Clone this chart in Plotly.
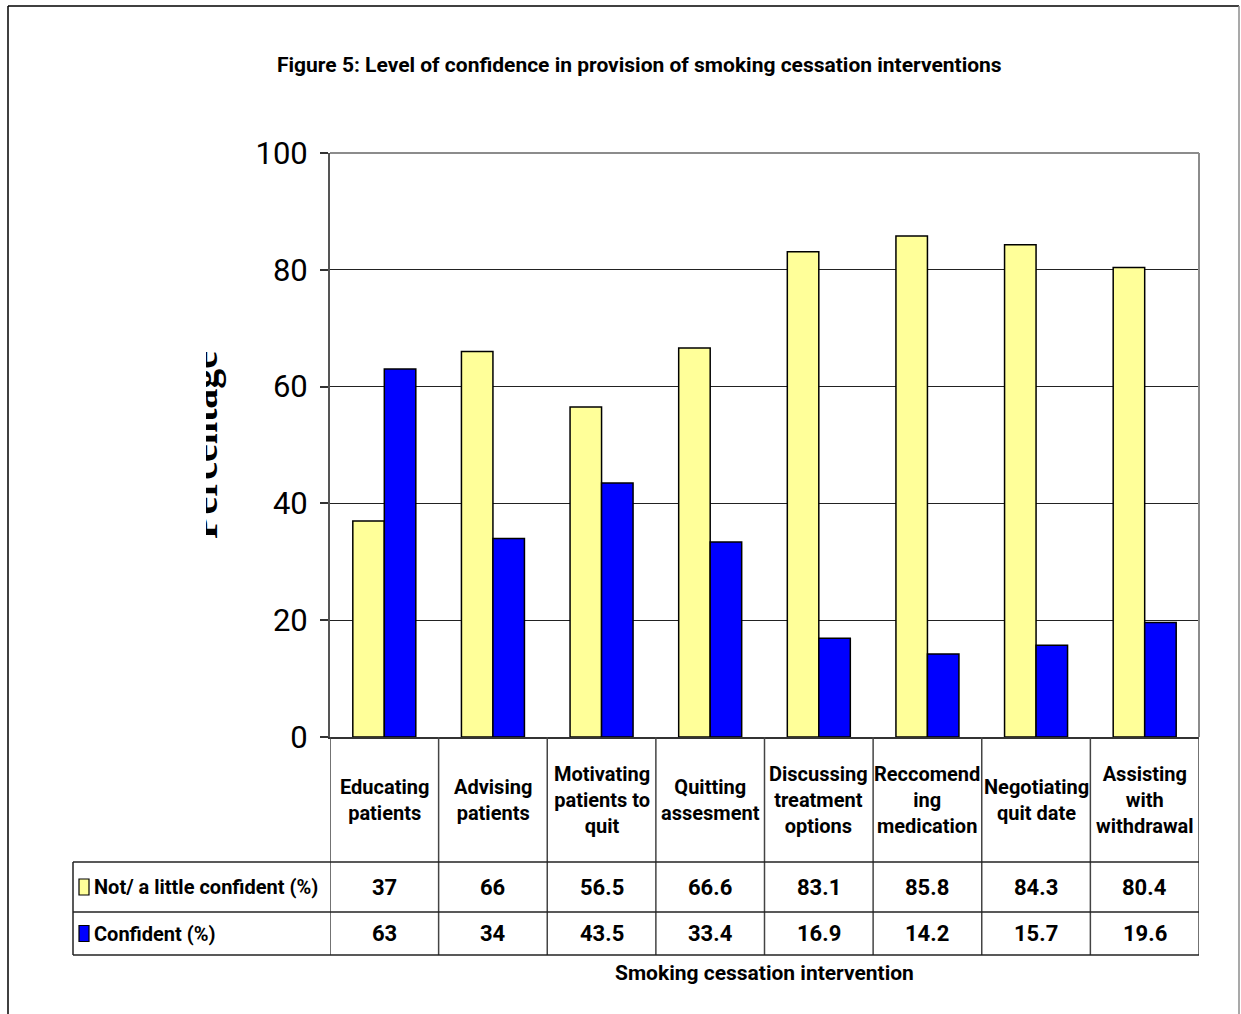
import plotly.graph_objects as go

# ---- data -------------------------------------------------------------
categories = [
    "Educating<br>patients",
    "Advising<br>patients",
    "Motivating<br>patients to<br>quit",
    "Quitting<br>assesment",
    "Discussing<br>treatment<br>options",
    "Reccomend<br>ing<br>medication",
    "Negotiating<br>quit date",
    "Assisting<br>with<br>withdrawal",
]
not_confident = [37, 66, 56.5, 66.6, 83.1, 85.8, 84.3, 80.4]
confident = [63, 34, 43.5, 33.4, 16.9, 14.2, 15.7, 19.6]
series_names = ["Not/ a little confident (%)", "Confident (%)"]
series_colors = ["#FFFF99", "#0000FF"]
y_ticks = [0, 20, 40, 60, 80, 100]

W, H = 1241, 1014
SANS = "Roboto, Liberation Sans, Arial, sans-serif"


def px(x):
    return x / W


def py(y):
    return 1 - y / H


# plot area in pixels
PL, PR, PT, PB = 330, 1199, 153, 737
# table row boundaries in pixels
ROW1, ROW2, ROW3 = 862, 912, 955
LEFT_TABLE = 73

xs = list(range(len(categories)))

fig = go.Figure()
for name, vals, col in zip(series_names, [not_confident, confident], series_colors):
    fig.add_trace(go.Bar(
        x=xs, y=vals, name=name,
        marker=dict(color=col, line=dict(color="black", width=1.5)),
        showlegend=False,
    ))

fig.update_layout(
    width=W, height=H,
    margin=dict(l=0, r=0, t=0, b=0),
    paper_bgcolor="white", plot_bgcolor="white",
    barmode="group", bargap=0.42, bargroupgap=0,
    font=dict(family=SANS, color="black"),
    xaxis=dict(
        domain=[px(PL), px(PR)], range=[-0.5, len(categories) - 0.5],
        showticklabels=False, showgrid=False, zeroline=False,
        showline=True, linecolor="#333333", linewidth=1.5,
        automargin=False, fixedrange=True,
    ),
    yaxis=dict(
        domain=[py(PB), py(PT)], range=[0, 100],
        tickvals=y_ticks, ticktext=[str(v) for v in y_ticks],
        tickfont=dict(family=SANS, size=31, color="black"),
        ticks="outside", ticklen=8, tickcolor="#333333", tickwidth=1.5,
        ticklabelstandoff=6,
        showgrid=True, gridcolor="#222222", gridwidth=1,
        zeroline=False,
        showline=True, linecolor="#555555", linewidth=2, mirror=False,
        automargin=False, fixedrange=True,
    ),
)

shapes = []
# plot area top and right border
shapes.append(dict(type="line", xref="paper", yref="paper",
                   x0=px(PL), x1=px(PR), y0=py(PT), y1=py(PT),
                   line=dict(color="#8c8c8c", width=2)))
shapes.append(dict(type="line", xref="paper", yref="paper",
                   x0=px(PR), x1=px(PR), y0=py(PT), y1=py(PB),
                   line=dict(color="#8c8c8c", width=2)))

# data table: column separators follow the category axis
for i in range(len(categories) + 1):
    shapes.append(dict(type="line", xref="x", yref="paper",
                       x0=i - 0.5, x1=i - 0.5, y0=py(PB), y1=py(ROW3),
                       line=dict(color="#444444", width=1.5)))
for yy in (ROW1, ROW2, ROW3):
    shapes.append(dict(type="line", xref="paper", yref="paper",
                       x0=px(LEFT_TABLE), x1=px(PR), y0=py(yy), y1=py(yy),
                       line=dict(color="#222222", width=1.5)))
shapes.append(dict(type="line", xref="paper", yref="paper",
                   x0=px(LEFT_TABLE), x1=px(LEFT_TABLE), y0=py(ROW1), y1=py(ROW3),
                   line=dict(color="#222222", width=1.5)))

# legend keys inside the table
row_centers = [(ROW1 + ROW2) / 2, (ROW2 + ROW3) / 2]
for col, yc in zip(series_colors, row_centers):
    shapes.append(dict(type="rect", xref="paper", yref="paper",
                       x0=px(79), x1=px(89), y0=py(yc + 8), y1=py(yc - 8),
                       fillcolor=col, line=dict(color="black", width=1.2)))

# page frame
shapes.append(dict(type="line", xref="paper", yref="paper",
                   x0=px(8), x1=px(1239), y0=py(6), y1=py(6),
                   line=dict(color="black", width=1.5)))
shapes.append(dict(type="line", xref="paper", yref="paper",
                   x0=px(8), x1=px(8), y0=py(6), y1=0,
                   line=dict(color="black", width=1.5)))
shapes.append(dict(type="line", xref="paper", yref="paper",
                   x0=px(1239), x1=px(1239), y0=py(6), y1=0,
                   line=dict(color="#8c8c8c", width=1.5)))

annotations = []
# title
annotations.append(dict(
    text="Figure 5: Level of confidence in provision of smoking cessation interventions",
    xref="paper", yref="paper", x=px(640), y=py(65),
    xanchor="center", yanchor="middle", showarrow=False,
    font=dict(family=SANS, size=21, color="black", weight="bold"),
))
# y-axis title (its left part is cut off by the chart-area edge)
annotations.append(dict(
    text="<b>Percentage</b>", textangle=-90,
    xref="paper", yref="paper", x=px(203), y=py(445),
    xanchor="center", yanchor="middle", showarrow=False,
    font=dict(family="Liberation Serif, Times New Roman, serif", size=40, color="black"),
))
annotations.append(dict(
    text=" ", xref="paper", yref="paper", x=px(206), y=py(445),
    xanchor="right", yanchor="middle", showarrow=False,
    width=60, height=260, bgcolor="white", borderpad=0, borderwidth=0,
))
# category labels in the header row
for i, cat in enumerate(categories):
    annotations.append(dict(
        text=cat, xref="x", yref="paper", x=i, y=py((PB + ROW1) / 2),
        xanchor="center", yanchor="middle", showarrow=False,
        font=dict(family=SANS, size=20, color="black", weight="bold"),
    ))
# value rows
for vals, yc in zip([not_confident, confident], row_centers):
    for i, v in enumerate(vals):
        annotations.append(dict(
            text=f"{v:g}", xref="x", yref="paper", x=i, y=py(yc),
            xanchor="center", yanchor="middle", showarrow=False,
            font=dict(family=SANS, size=22, color="black", weight="bold"),
        ))
# row labels
for name, yc in zip(series_names, row_centers):
    annotations.append(dict(
        text=name, xref="paper", yref="paper", x=px(92), y=py(yc),
        xanchor="left", yanchor="middle", showarrow=False,
        font=dict(family=SANS, size=20, color="black", weight="bold"),
    ))
# x-axis title below the table
annotations.append(dict(
    text="Smoking cessation intervention",
    xref="paper", yref="paper", x=px((PL + PR) / 2), y=py(973),
    xanchor="center", yanchor="middle", showarrow=False,
    font=dict(family=SANS, size=21, color="black", weight="bold"),
))

fig.update_layout(shapes=shapes, annotations=annotations)
fig.write_html("out.html")
